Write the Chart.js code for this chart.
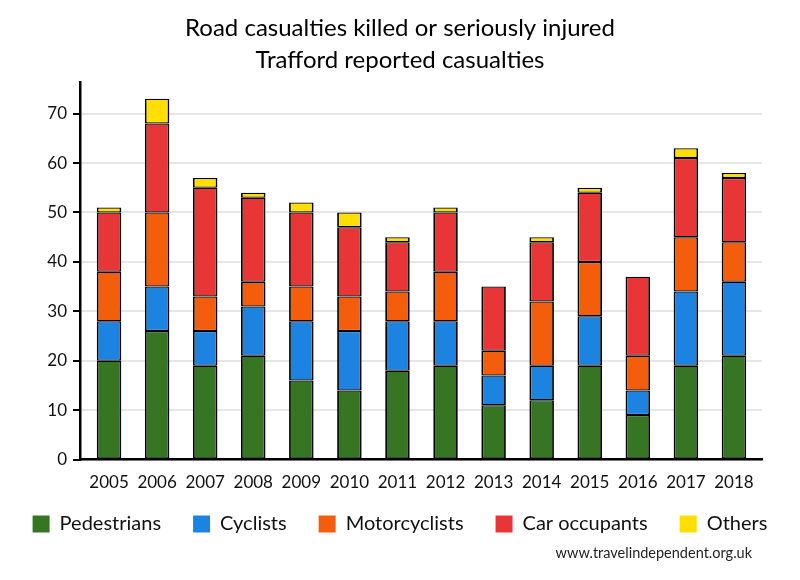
<!DOCTYPE html>
<html>
<head>
<meta charset="utf-8">
<script src="https://cdn.jsdelivr.net/npm/chart.js@4"></script>
<style>
  html, body { margin: 0; padding: 0; background: #fff; }
  #wrap { width: 800px; height: 580px; }
</style>
</head>
<body>
<div id="wrap"><canvas id="c" width="800" height="580"></canvas></div>
<script>
const years = ['2005','2006','2007','2008','2009','2010','2011','2012','2013','2014','2015','2016','2017','2018'];
const pedestrians   = [20, 26, 19, 21, 16, 14, 18, 19, 11, 12, 19,  9, 19, 21];
const cyclists      = [ 8,  9,  7, 10, 12, 12, 10,  9,  6,  7, 10,  5, 15, 15];
const motorcyclists = [10, 15,  7,  5,  7,  7,  6, 10,  5, 13, 11,  7, 11,  8];
const carOccupants  = [12, 18, 22, 17, 15, 14, 10, 12, 13, 12, 14, 16, 16, 13];
const others        = [ 1,  5,  2,  1,  2,  3,  1,  1,  0,  1,  1,  0,  2,  1];
const seriesNames = ['Pedestrians', 'Cyclists', 'Motorcyclists', 'Car occupants', 'Others'];
const seriesColors = ['#367623', '#1c84e0', '#f45d0c', '#e83535', '#ffde00'];
const titleLines = ['Road casualties killed or seriously injured', 'Trafford reported casualties'];
const footerText = 'www.travelindependent.org.uk';

Chart.defaults.font.family = 'Lato';
Chart.defaults.color = '#111';

const seriesValues = [pedestrians, cyclists, motorcyclists, carOccupants, others];
const datasets = seriesNames.map((name, i) => ({
  label: name,
  data: seriesValues[i],
  backgroundColor: seriesColors[i],
  borderColor: '#000',
  borderWidth: {left: 1.8, right: 1.8, top: 1.25, bottom: 1.25},
  borderSkipped: false,
  inflateAmount: 0,
  barPercentage: 0.51,
  categoryPercentage: 1
}));

const layoutTweaks = {
  id: 'layoutTweaks',
  afterLayout(chart) {
    const x = chart.scales.x;
    x._startPixel = x.left + 5;
    x._endPixel = x.right - 4;
    x._length = x._endPixel - x._startPixel;
    const lg = chart.legend;
    const pad = lg.options.labels.padding;
    const want = 524 - pad - 10;
    const d = want - lg.top;
    lg.top += d; lg.bottom += d;
  },
  afterDraw(chart) {
    const ctx = chart.ctx;
    ctx.save();
    ctx.font = '14.5px Lato';
    ctx.fillStyle = '#222';
    ctx.textAlign = 'right';
    ctx.textBaseline = 'middle';
    ctx.fillText(footerText, 752, 553);
    ctx.restore();
  }
};

new Chart(document.getElementById('c'), {
  type: 'bar',
  data: { labels: years, datasets },
  options: {
    responsive: false,
    animation: false,
    layout: { padding: { top: 12, bottom: 12, left: 0, right: 0 } },
    plugins: {
      title: {
        display: true,
        text: titleLines,
        color: '#000',
        font: { size: 24, weight: 'normal', lineHeight: 32 / 24 },
        padding: { top: 0, bottom: 6 }
      },
      legend: {
        position: 'bottom',
        align: 'center',
        labels: {
          boxWidth: 17,
          boxHeight: 17,
          padding: 32,
          color: '#111',
          font: { size: 20 },
          generateLabels: (chart) => Chart.defaults.plugins.legend.labels.generateLabels(chart)
            .map(l => Object.assign(l, { lineWidth: 0, strokeStyle: 'rgba(0,0,0,0)' }))
        }
      },
      tooltip: { enabled: false }
    },
    scales: {
      x: {
        stacked: true,
        offset: true,
        grid: { display: false, drawTicks: false },
        border: { display: true, color: '#000', width: 2.5 },
        ticks: { color: '#111', font: { size: 17 }, padding: 13, maxRotation: 0, autoSkip: false }
      },
      y: {
        stacked: true,
        min: 0,
        max: 76.4,
        grid: { color: '#e6e6e6', lineWidth: 2, drawTicks: true, tickLength: 7, tickColor: '#000', tickWidth: 2 },
        border: { display: true, color: '#000', width: 2.5 },
        ticks: { stepSize: 10, includeBounds: false, color: '#111', font: { size: 17 }, padding: 6 },
        afterFit: (s) => { s.width = 80; }
      },
      yRight: {
        position: 'right',
        display: true,
        grid: { display: false, drawTicks: false },
        border: { display: false },
        ticks: { display: false },
        afterFit: (s) => { s.width = 38; }
      }
    }
  },
  plugins: [layoutTweaks]
});
</script>
</body>
</html>
